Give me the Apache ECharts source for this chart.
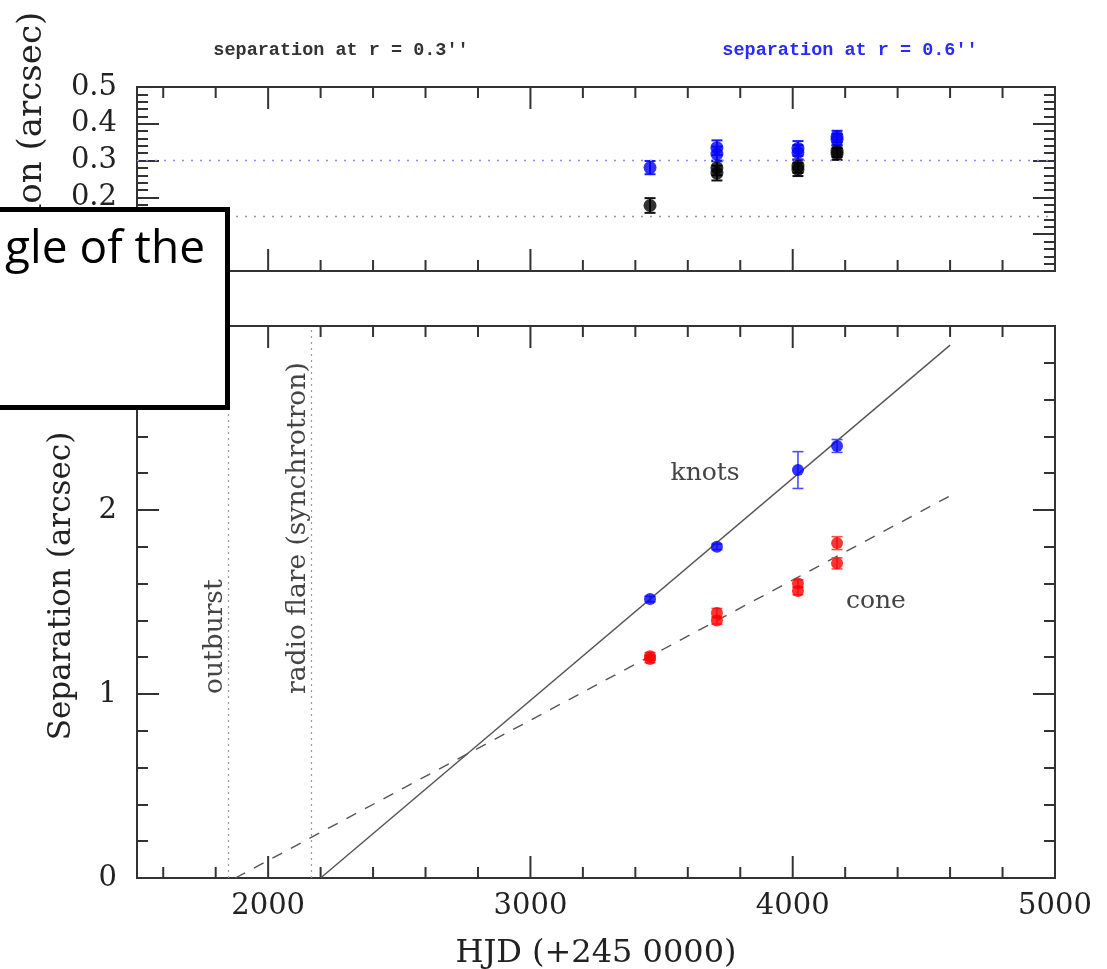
<!DOCTYPE html>
<html><head><meta charset="utf-8">
<script src="https://cdn.jsdelivr.net/npm/echarts@6/dist/echarts.min.js"></script>
<style>html,body{margin:0;padding:0;background:#fff}#c{width:1107px;height:969px}</style>
</head><body><div id="c"></div>
<script>
// ---- data ----
const hjdRange = [1500, 5000];
const xMajorTicks = [2000, 3000, 4000, 5000];
const topYRange = [0, 0.5];
const topYMajorTicks = [0, 0.1, 0.2, 0.3, 0.4, 0.5];
const botYRange = [0, 3];
const botYMajorTicks = [0, 1, 2, 3];

// [HJD, separation, error]
const sepAt03 = [[3456,0.178,0.020],[3711,0.280,0.020],[3711,0.266,0.020],[4020,0.285,0.018],[4020,0.276,0.018],[4169,0.326,0.016],[4169,0.318,0.016]];
const sepAt06 = [[3456,0.281,0.018],[3711,0.335,0.020],[3711,0.318,0.020],[4020,0.333,0.020],[4020,0.322,0.020],[4169,0.365,0.016],[4169,0.357,0.016]];
const refLevel03 = 0.15;
const refLevel06 = 0.30;

const knots = [[3456,1.516,0.015],[3711,1.800,0.015],[4020,2.217,0.100],[4169,2.348,0.035]];
const cone = [[3456,1.190,0.020],[3456,1.205,0.020],[3711,1.400,0.020],[3711,1.440,0.025],[4020,1.560,0.020],[4020,1.600,0.020],[4169,1.710,0.030],[4169,1.820,0.035]];
const knotsFit = [[2200,0],[4600,2.896]];
const coneFit = [[1875,0],[4600,2.077]];
const eventNames = ['outburst', 'radio flare (synchrotron)'];
const eventHJD = [1847, 2163];

const titles = ["separation at r = 0.3''", "separation at r = 0.6''"];
const xName = 'HJD (+245 0000)';
const yName = 'Separation (arcsec)';
const curveNames = ['knots', 'cone'];
const overlayText = 'gle of the';

// ---- helpers ----
function range(a, b, step, skipEvery) {
  const out = [];
  for (let i = 0; a + i * step <= b + 1e-9; i++) {
    if (skipEvery && i % skipEvery === 0) continue;
    out.push(+(a + i * step).toFixed(4));
  }
  return out;
}
const SERIF = 'DejaVu Serif';
const TICK_COLOR = '#333';
const TICK_W = 2;
const MAJOR_LEN = 22, MINOR_LEN = 11;
function yAx(min, max, pos, grid, ticks, len, labels, fmt, extra) {
  return Object.assign({
    type: 'value', gridIndex: grid, position: pos, min, max,
    axisLine: {show: false}, splitLine: {show: false},
    axisTick: {show: true, inside: true, length: len, customValues: ticks,
      lineStyle: {color: TICK_COLOR, width: TICK_W}},
    axisLabel: labels ? {show: true, customValues: labels, formatter: fmt,
      fontFamily: SERIF, fontSize: 29, color: '#222', margin: 20} : {show: false}
  }, extra || {});
}
const xMinor = range(1600, 4800, 200).filter(v => v % 1000 !== 0);
const topYMinor = range(0, 0.5, 0.02, 5);
const botYMinor = range(0, 3, 0.2, 5);

const grids = [
  {left: 137, top: 87, width: 918, height: 184},
  {left: 137, top: 326, width: 918, height: 552}
].map(r => Object.assign(r, {show: true, borderColor: '#333', borderWidth: 2,
  backgroundColor: 'transparent', outerBoundsMode: 'none', containLabel: false}));

// x axes: one per panel; ticks for the top and bottom frame edges are drawn from the x scale below
const xAxes = [0, 1].map(gi => ({
  type: 'value', gridIndex: gi, position: 'bottom', min: hjdRange[0], max: hjdRange[1],
  axisLine: {show: false}, splitLine: {show: false}, axisTick: {show: false},
  axisLabel: gi === 1 ? {show: true, customValues: xMajorTicks, formatter: v => String(v),
    fontFamily: SERIF, fontSize: 29, color: '#222', margin: 14} : {show: false},
  name: gi === 1 ? xName : '', nameLocation: 'middle', nameGap: 60,
  nameTextStyle: {fontFamily: SERIF, fontSize: 32, color: '#222'}
}));
// y axes: per panel gi -> 4gi left major, 4gi+1 left minor, 4gi+2 right major, 4gi+3 right minor
const yAxes = [];
[0, 1].forEach(gi => {
  const yr = gi === 0 ? topYRange : botYRange;
  const ym = gi === 0 ? topYMajorTicks : botYMajorTicks;
  const yn = gi === 0 ? topYMinor : botYMinor;
  const fmt = gi === 0 ? (v => v === 0 ? '0' : v.toFixed(1)) : (v => String(v));
  yAxes.push(yAx(yr[0], yr[1], 'left', gi, ym, MAJOR_LEN, ym, fmt,
    gi === 1 ? {name: yName, nameLocation: 'middle', nameGap: 60,
      nameTextStyle: {fontFamily: SERIF, fontSize: 31, color: '#222', padding: [0, 0, 0, 32]}} : null));
  yAxes.push(yAx(yr[0], yr[1], 'left', gi, yn, MINOR_LEN, null));
  yAxes.push(yAx(yr[0], yr[1], 'right', gi, ym, MAJOR_LEN, null));
  yAxes.push(yAx(yr[0], yr[1], 'right', gi, yn, MINOR_LEN, null));
});
const TOPX = 0, TOPY = 0, BOTX = 1, BOTY = 4;

// x-axis tick marks on the bottom and top frame of a panel, placed by the x scale
function xTickSeries(xi, yi, yMin) {
  const data = xMajorTicks.map(v => [v, yMin, 1]).concat(xMinor.map(v => [v, yMin, 0]));
  return {
    type: 'custom', xAxisIndex: xi, yAxisIndex: yi, data, silent: true, z: 1, clip: false,
    encode: {x: 0, y: 1},
    renderItem(params, api) {
      const cs = params.coordSys;
      const px = api.coord([api.value(0), api.value(1)])[0];
      const len = api.value(2) ? MAJOR_LEN : MINOR_LEN;
      const st = {stroke: TICK_COLOR, lineWidth: TICK_W};
      const yb = cs.y + cs.height, yt = cs.y;
      return {type: 'group', children: [
        {type: 'line', shape: {x1: px, y1: yb, x2: px, y2: yb - len}, style: st},
        {type: 'line', shape: {x1: px, y1: yt, x2: px, y2: yt + len}, style: st}
      ]};
    }
  };
}
function errSeries(data, xi, yi, color, capW, lw, z) {
  return {
    type: 'custom', xAxisIndex: xi, yAxisIndex: yi, data, z, silent: true,
    encode: {x: 0, y: 1},
    renderItem(params, api) {
      const x = api.value(0), y = api.value(1), e = api.value(2);
      const a = api.coord([x, y + e]), b = api.coord([x, y - e]);
      const h = capW / 2, st = {stroke: color, lineWidth: lw};
      return {type: 'group', children: [
        {type: 'line', shape: {x1: a[0], y1: a[1], x2: b[0], y2: b[1]}, style: st},
        {type: 'line', shape: {x1: a[0] - h, y1: a[1], x2: a[0] + h, y2: a[1]}, style: st},
        {type: 'line', shape: {x1: b[0] - h, y1: b[1], x2: b[0] + h, y2: b[1]}, style: st}
      ]};
    }
  };
}
function dots(data, xi, yi, color, size, z) {
  return {type: 'scatter', xAxisIndex: xi, yAxisIndex: yi, symbol: 'circle', symbolSize: size,
    data: data.map(d => [d[0], d[1]]), itemStyle: {color}, z, silent: true};
}

const series = [
  xTickSeries(TOPX, TOPY, topYRange[0]),
  xTickSeries(BOTX, BOTY, botYRange[0]),
  // top panel
  Object.assign(dots(sepAt03, TOPX, TOPY, '#000', 13, 5), {markLine: {silent: true, symbol: ['none', 'none'],
    label: {show: false}, lineStyle: {color: '#999', type: [2, 7], width: 1.4},
    data: [{yAxis: refLevel03}]}}),
  Object.assign(dots(sepAt06, TOPX, TOPY, '#0000ff', 13, 6), {markLine: {silent: true, symbol: ['none', 'none'],
    label: {show: false}, lineStyle: {color: '#8c8cff', type: [2, 7], width: 1.4},
    data: [{yAxis: refLevel06}]}}),
  errSeries(sepAt03, TOPX, TOPY, '#111', 11, 2, 4),
  errSeries(sepAt06, TOPX, TOPY, '#1a1aff', 11, 2, 4),
  // bottom panel
  {type: 'line', xAxisIndex: BOTX, yAxisIndex: BOTY, data: knotsFit, symbol: 'none', silent: true,
    lineStyle: {color: '#555', width: 1.4}, z: 2,
    markLine: {silent: true, symbol: ['none', 'none'], label: {show: false},
      lineStyle: {color: '#9a9a9a', type: [2, 4], width: 1.2},
      data: eventHJD.map(v => ({xAxis: v}))}},
  {type: 'line', xAxisIndex: BOTX, yAxisIndex: BOTY, data: coneFit, symbol: 'none', silent: true,
    lineStyle: {color: '#555', width: 1.4, type: [11, 10]}, z: 2},
  errSeries(knots, BOTX, BOTY, '#4d4dff', 11, 1.6, 3),
  errSeries(cone, BOTX, BOTY, '#ff4d4d', 11, 1.6, 3),
  dots(knots, BOTX, BOTY, '#0000ff', 12, 5),
  dots(cone, BOTX, BOTY, '#ff0000', 12, 5)
];

const chart = echarts.init(document.getElementById('c'), null, {renderer: 'canvas'});
chart.setOption({
  animation: false,
  backgroundColor: '#fff',
  grid: grids,
  xAxis: xAxes,
  yAxis: yAxes,
  series
});

// annotations positioned through the bottom panel's scales
const P = p => chart.convertToPixel({xAxisIndex: BOTX, yAxisIndex: BOTY}, p);
const eventLabelY = 1.0;
const g = [];
eventNames.forEach((name, i) => {
  const p = P([eventHJD[i], eventLabelY]);
  g.push({type: 'text', x: p[0] + 1, y: p[1], rotation: Math.PI / 2, z: 10,
    style: {text: name, align: 'left', verticalAlign: 'bottom', fontFamily: SERIF, fontSize: 26.5, fill: '#444'}});
});
const curveLabelPos = [[3666, 2.20], [4317, 1.505]];
curveNames.forEach((name, i) => {
  const p = P(curveLabelPos[i]);
  g.push({type: 'text', x: p[0], y: p[1], z: 10,
    style: {text: name, align: 'center', verticalAlign: 'middle', fontFamily: SERIF, fontSize: 25, fill: '#444'}});
});
// top panel y-axis title
g.push({type: 'text', x: 32, y: 181, rotation: Math.PI / 2, z: 10,
  style: {text: yName, align: 'center', verticalAlign: 'middle', fontFamily: SERIF, fontSize: 34, fill: '#222'}});
// panel titles
g.push({type: 'text', x: 341, y: 50, z: 10, style: {text: titles[0], align: 'center', verticalAlign: 'middle',
  fontFamily: 'Liberation Mono', fontWeight: 'bold', fontSize: 18.5, fill: '#333'}});
g.push({type: 'text', x: 850, y: 50, z: 10, style: {text: titles[1], align: 'center', verticalAlign: 'middle',
  fontFamily: 'Liberation Mono', fontWeight: 'bold', fontSize: 18.5, fill: '#2a2aff'}});
// overlay box
g.push({type: 'rect', z: 100, shape: {x: -10, y: 209.5, width: 237.5, height: 198},
  style: {fill: '#fff', stroke: '#000', lineWidth: 5}});
g.push({type: 'text', z: 101, x: 205, y: 250, style: {text: overlayText, align: 'right', verticalAlign: 'middle',
  fontFamily: 'Open Sans', fontSize: 46, fill: '#000'}});
chart.setOption({graphic: g});
</script>
</body></html>
